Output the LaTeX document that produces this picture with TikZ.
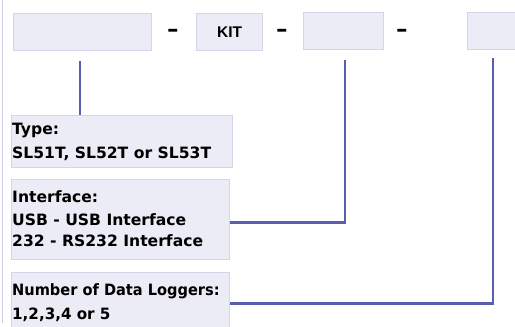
\documentclass[tikz,border=0pt]{standalone}
\usepackage{fontspec}
\setmainfont{DejaVu Sans}
\newfontfamily\kitfont{Liberation Sans}
\definecolor{boxfill}{RGB}{236,236,246}
\definecolor{boxline}{RGB}{212,212,234}
\definecolor{connc}{RGB}{92,92,176}
\definecolor{framec}{RGB}{204,204,232}
\begin{document}
\begin{tikzpicture}[x=1pt,y=-1pt,
  box/.style={draw=boxline, fill=boxfill, line width=1.2pt, anchor=north west, inner sep=0pt, rectangle},
  conn/.style={draw=connc, line width=2.6pt},
  lbl/.style={anchor=base west, inner sep=0pt, font=\bfseries\fontsize{15.6}{18}\selectfont},
  dashtxt/.style={anchor=base, inner sep=0pt, font=\bfseries\fontsize{20}{22}\selectfont}]
\useasboundingbox (0,0) rectangle (515,327);
\clip (0,0) rectangle (515,327);
\draw[framec, line width=1.4pt] (2.5,0) -- (2.5,323);
% top row
\node[box, minimum width=138pt, minimum height=37pt] (b1) at (13,13) {};
\node[box, minimum width=66pt, minimum height=37pt] (kit) at (196,13) {};
\node[font=\kitfont\bfseries\fontsize{15.5}{17}\selectfont, inner sep=0pt] (kittxt) at (kit.center) {KIT};
\node[box, minimum width=80pt, minimum height=37pt] (b3) at (303,12) {};
\node[box, minimum width=60pt, minimum height=37pt] (b4) at (467,12) {};
\node[dashtxt] (d1) at (173,36) {\scalebox{1.45}[1]{-}};
\node[dashtxt] (d2) at (282,36) {\scalebox{1.45}[1]{-}};
\node[dashtxt] (d3) at (402,36) {\scalebox{1.45}[1]{-}};
% description boxes
\node[box, minimum width=221pt, minimum height=52pt] (typebox) at (11,115) {};
\node[box, minimum width=218pt, minimum height=80pt] (iface) at (11,179) {};
\node[box, minimum width=218pt, minimum height=62pt] (num) at (11,272) {};
\node[lbl] (t1) at (12,134) {Type:};
\node[lbl] (t2) at (12,158.5) {SL51T, SL52T or SL53T};
\node[lbl] (i1) at (12,202) {Interface:};
\node[lbl] (i2) at (12,225) {USB - USB Interface};
\node[lbl] (i3) at (12,246.5) {232 - RS232 Interface};
\node[lbl] (n1) at (12,295.5) {\scalebox{0.935}[1]{Number of Data Loggers:}};
\node[lbl] (n2) at (12,319) {\scalebox{0.97}[1]{1,2,3,4 or 5}};
% connectors
\coordinate (c1) at (80,61);
\coordinate (c2) at (345,60);
\coordinate (c3) at (493,58);
\draw[conn] (c1) -- (c1 |- typebox.north);
\draw[conn] (c2) |- ([yshift=-3pt]iface.east);
\draw[conn] (c3) |- ([yshift=0pt]num.east);
\end{tikzpicture}
\end{document}
